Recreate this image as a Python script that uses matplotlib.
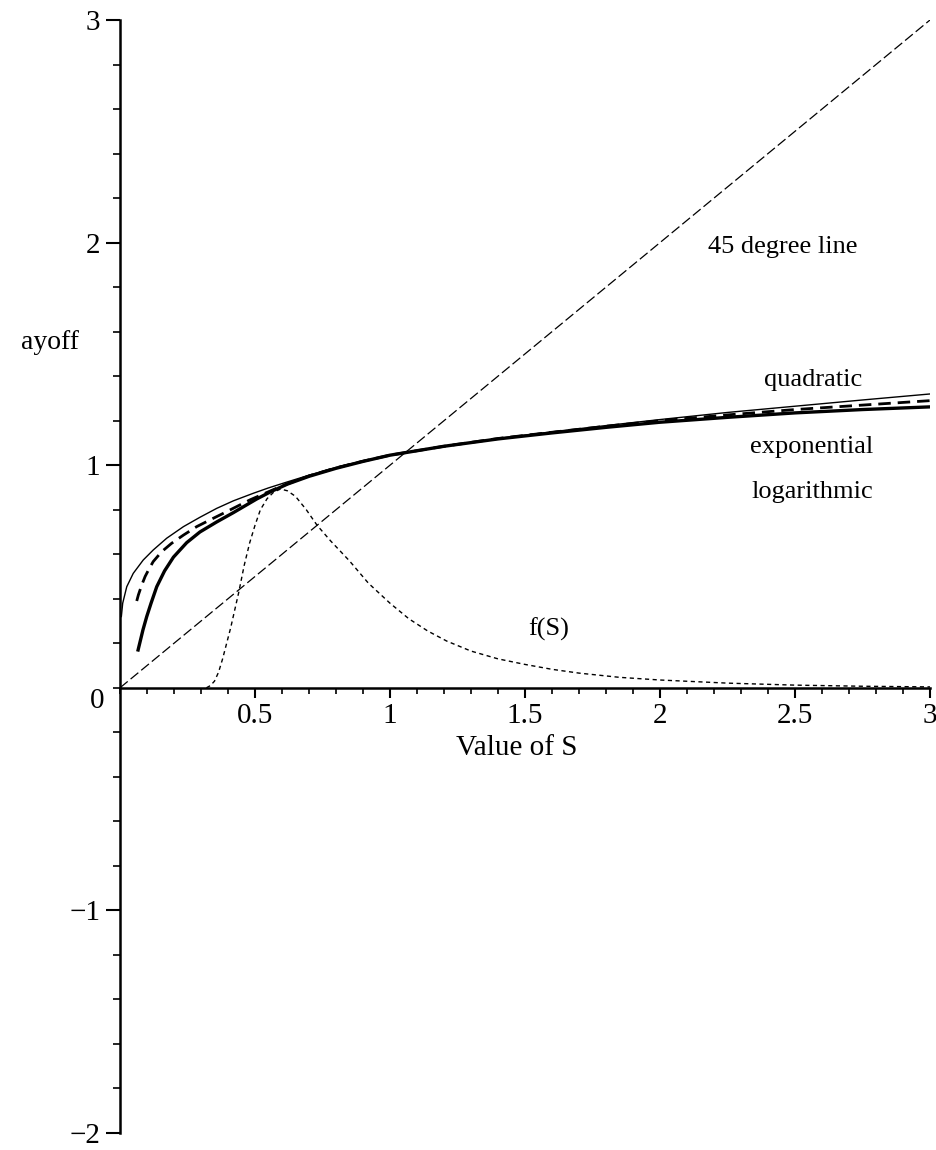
import matplotlib
matplotlib.use("Agg")
import matplotlib.pyplot as plt
from matplotlib.ticker import MultipleLocator, FixedLocator, FixedFormatter

# ---- data ----
line45_x = [0.0, 3.0]
line45_y = [0.0, 3.0]

quad_x = [0.005, 0.01, 0.025, 0.049, 0.086, 0.123, 0.173, 0.235, 0.296, 0.358, 0.42, 0.494,
          0.55, 0.62, 0.7, 0.8, 0.9, 1.0, 1.2, 1.4, 1.6, 1.8, 2.0, 2.25, 2.5, 2.75, 3.0]
quad_y = [0.32, 0.38, 0.454, 0.514, 0.574, 0.619, 0.672, 0.724, 0.766, 0.806, 0.84, 0.874,
          0.898, 0.925, 0.955, 0.99, 1.02, 1.045, 1.085, 1.12, 1.15, 1.178, 1.205, 1.237, 1.265, 1.293, 1.32]

expo_x = [0.062, 0.068, 0.08, 0.093, 0.108, 0.123, 0.154, 0.191, 0.235, 0.284, 0.333, 0.383, 0.432,
          0.481, 0.53, 0.6, 0.7, 0.8, 0.9, 1.0, 1.2, 1.4, 1.6, 1.8, 2.0, 2.25, 2.5, 2.75, 3.0]
expo_y = [0.39, 0.417, 0.46, 0.50, 0.535, 0.567, 0.611, 0.649, 0.686, 0.724, 0.754, 0.784, 0.814,
          0.844, 0.87, 0.907, 0.952, 0.988, 1.018, 1.045, 1.085, 1.12, 1.148, 1.175, 1.20, 1.226, 1.25, 1.27, 1.29]

log_x = [0.067, 0.075, 0.085, 0.099, 0.115, 0.136, 0.165, 0.198, 0.247, 0.296, 0.358, 0.42, 0.506,
         0.56, 0.62, 0.7, 0.8, 0.9, 1.0, 1.2, 1.4, 1.6, 1.8, 2.0, 2.25, 2.5, 2.75, 3.0]
log_y = [0.17, 0.21, 0.26, 0.32, 0.38, 0.454, 0.525, 0.587, 0.652, 0.70, 0.745, 0.787, 0.848,
         0.882, 0.915, 0.95, 0.986, 1.017, 1.045, 1.085, 1.118, 1.145, 1.17, 1.193, 1.215, 1.235, 1.25, 1.262]

fs_x = [0.32, 0.335, 0.35, 0.365, 0.38, 0.395, 0.41, 0.425, 0.44, 0.46, 0.48, 0.50, 0.52, 0.545, 0.57,
        0.595, 0.62, 0.65, 0.69, 0.73, 0.78, 0.85, 0.92, 1.0, 1.07, 1.14, 1.21, 1.3, 1.4, 1.5, 1.6,
        1.7, 1.85, 2.0, 2.25, 2.5, 2.75, 3.0]
fs_y = [0.0, 0.01, 0.03, 0.07, 0.13, 0.20, 0.27, 0.35, 0.43, 0.55, 0.65, 0.73, 0.80, 0.85, 0.88,
        0.893, 0.885, 0.86, 0.80, 0.73, 0.66, 0.57, 0.47, 0.38, 0.31, 0.255, 0.21, 0.165, 0.13, 0.105, 0.083,
        0.066, 0.047, 0.035, 0.021, 0.012, 0.007, 0.004]

xtick_vals = [0.5, 1, 1.5, 2, 2.5, 3]
xtick_labels = ["0.5", "1", "1.5", "2", "2.5", "3"]
ytick_vals = [-2, -1, 1, 2, 3]
ytick_labels = ["\u22122", "\u22121", "1", "2", "3"]

annotations = [
    ("45 degree line", 2.456, 1.98),
    ("quadratic", 2.567, 1.383),
    ("exponential", 2.563, 1.082),
    ("logarithmic", 2.563, 0.88),
    ("f(S)", 1.589, 0.264),
]

plt.rcParams['font.family'] = ['Liberation Serif', 'DejaVu Serif']

fig = plt.figure(figsize=(9.36, 11.5), dpi=100)
ax = fig.add_axes([120/936, 17/1150, 810/936, 1113/1150])
ax.set_xlim(0, 3)
ax.set_ylim(-2, 3)

ax.plot(line45_x, line45_y, color='black', lw=0.9, ls=(0, (8, 3)))
ax.plot(quad_x, quad_y, color='black', lw=1.0, ls='-', solid_joinstyle='round')
ax.plot(expo_x, expo_y, color='black', lw=2.0, ls=(0, (4.5, 2.5)))
ax.plot(log_x, log_y, color='black', lw=2.4, ls='-', solid_joinstyle='round')
ax.plot(fs_x, fs_y, color='black', lw=1.0, ls=(0, (3, 2.5)))

for s in ['top', 'right']:
    ax.spines[s].set_visible(False)
ax.spines['bottom'].set_position(('data', 0))
ax.spines['left'].set_position(('data', 0))
for s in ['bottom', 'left']:
    ax.spines[s].set_linewidth(1.8)

ax.xaxis.set_major_locator(FixedLocator(xtick_vals))
ax.xaxis.set_major_formatter(FixedFormatter(xtick_labels))
ax.xaxis.set_minor_locator(MultipleLocator(0.1))
ax.yaxis.set_major_locator(FixedLocator(ytick_vals))
ax.yaxis.set_major_formatter(FixedFormatter(ytick_labels))
ax.yaxis.set_minor_locator(MultipleLocator(0.2))

ax.tick_params(axis='x', which='major', direction='out', length=7, width=1.5, labelsize=21, pad=4)
ax.tick_params(axis='x', which='minor', direction='out', length=4, width=1.2)
ax.tick_params(axis='y', which='major', direction='out', length=10, width=1.5, labelsize=21, pad=4)
ax.tick_params(axis='y', which='minor', direction='out', length=5, width=1.2)

ax.text(-0.085, -0.06, "0", fontsize=21, ha='center', va='center', clip_on=False)
ax.text(1.47, -0.27, "Value of S", fontsize=21, ha='center', va='center', clip_on=False)
ax.text(-0.26, 1.55, "ayoff", fontsize=20, ha='center', va='center', clip_on=False)

for txt, x, y in annotations:
    ax.text(x, y, txt, fontsize=19, ha='center', va='center')

fig.savefig("out.png", dpi=100)
